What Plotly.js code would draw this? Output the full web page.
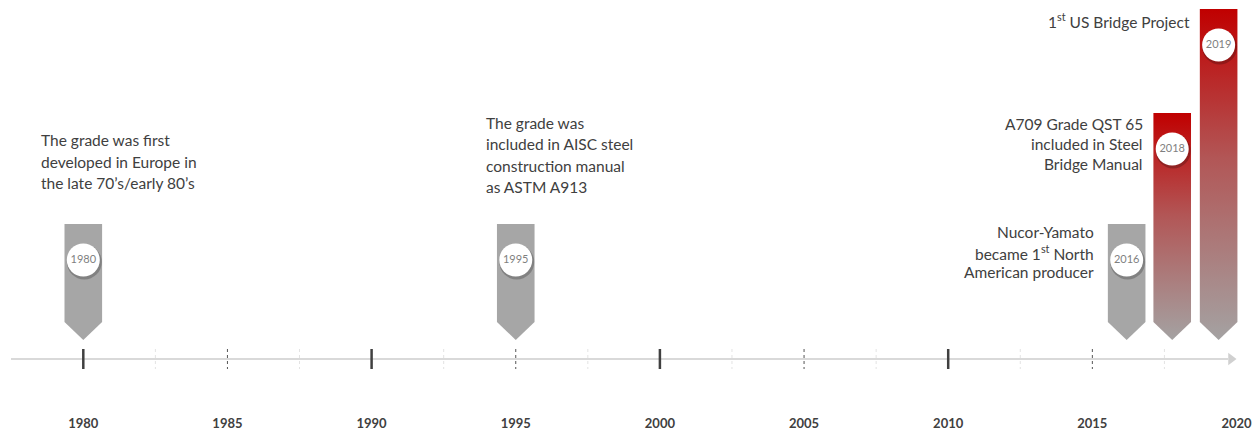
<!DOCTYPE html>
<html>
<head>
<meta charset="utf-8">
<script src="https://cdn.plot.ly/plotly-3.0.1.min.js"></script>
<style>html,body{margin:0;padding:0;background:#fff;}#chart{width:1260px;height:433px;}</style>
</head>
<body>
<div id="chart"></div>
<script>
// ---------- DATA ----------
const eventYears   = ['1980', '1995', '2016', '2018', '2019'];
const bannerPos    = [1980.0, 1995.0, 2016.19, 2017.77, 2019.38];   // position on the time axis (years)
const bannerTop    = [224, 224, 224, 113, 9];                       // banner top level
const bannerRed    = [false, false, false, true, true];

const majorTicks   = [1980, 1990, 2000, 2010];
const midTicks     = [1985, 1995, 2005, 2015];
const minorTicks   = [1982.5, 1987.5, 1992.5, 1997.5, 2002.5, 2007.5, 2012.5, 2017.5];
const tickLabels   = [1980, 1985, 1990, 1995, 2000, 2005, 2010, 2015, 2020];

const note1980 = ['The grade was first', 'developed in Europe in', 'the late 70’s/early 80’s'];
const note1995 = ['The grade was', 'included in AISC steel', 'construction manual', 'as ASTM A913'];
const note2016 = ['Nucor-Yamato', 'became 1<sup>st</sup> North', 'American producer'];
const note2018 = ['A709 Grade QST 65', 'included in Steel', 'Bridge Manual'];
const note2019 = ['1<sup>st</sup> US Bridge Project'];

// ---------- GEOMETRY / STYLE ----------
const PX_PER_YEAR = 28.83, ORIGIN_PX = 83.3;
const yr = px => 1980 + (px - ORIGIN_PX) / PX_PER_YEAR;
const dYr = px => px / PX_PER_YEAR;
const AXIS_Y = 359, TICK_HALF = 10, RECT_BOTTOM = 322, TIP = 340, HALF_W = dYr(18.8);
const TEXT = '#404040', FONT = 'Lato';

const traces = [];

// axis line + arrow
traces.push({x: [yr(11), yr(1228)], y: [AXIS_Y, AXIS_Y], mode: 'lines',
  line: {color: '#D9D9D9', width: 2}, hoverinfo: 'skip'});
traces.push({x: [yr(1231)], y: [AXIS_Y], mode: 'markers',
  marker: {symbol: 'triangle-right', size: 11, color: '#D0D0D0'}, hoverinfo: 'skip'});

function tickTrace(arr, color, width, dash) {
  const x = [], y = [];
  arr.forEach(t => { x.push(t, t, null); y.push(AXIS_Y - TICK_HALF, AXIS_Y + TICK_HALF, null); });
  return {x, y, mode: 'lines', line: {color, width, dash}, hoverinfo: 'skip'};
}
traces.push(tickTrace(minorTicks, '#E3E3E3', 1, 'dot'));
traces.push(tickTrace(midTicks, '#555555', 1, 'dot'));
traces.push(tickTrace(majorTicks, '#404040', 2.5, 'solid'));

// tick labels
traces.push({x: tickLabels, y: tickLabels.map(() => 425), mode: 'text',
  text: tickLabels.map(String), textposition: 'middle center',
  textfont: {family: FONT, size: 13, color: TEXT, weight: 'bold'}, hoverinfo: 'skip'});

// banners
bannerPos.forEach((cx, i) => {
  const top = bannerTop[i];
  const t = {
    x: [cx - HALF_W, cx + HALF_W, cx + HALF_W, cx, cx - HALF_W, cx - HALF_W],
    y: [top, top, RECT_BOTTOM, TIP, RECT_BOTTOM, top],
    mode: 'lines', fill: 'toself', line: {width: 0}, hoverinfo: 'skip'
  };
  if (bannerRed[i]) {
    t.fillgradient = {type: 'vertical', start: top, stop: TIP,
      colorscale: [[0, '#C00000'], [0.45, '#B25656'], [1, '#A4A2A2']]};
  } else {
    t.fillcolor = '#A6A6A6';
  }
  traces.push(t);
});

// circle shadows + circles + year labels
const cy = bannerTop.map(t => t + 36);
traces.push({x: bannerPos.map(v => v + dYr(1)), y: cy.map(v => v + 2), mode: 'markers',
  marker: {size: 35, color: 'rgba(0,0,0,0.22)'}, hoverinfo: 'skip'});
traces.push({x: bannerPos, y: cy, mode: 'markers+text', text: eventYears,
  textposition: 'middle center', textfont: {family: FONT, size: 11, color: '#7F7F7F'},
  marker: {size: 33, color: '#FFFFFF', line: {width: 0}}, hoverinfo: 'skip'});

// notes
const annotations = [];
function note(lines, xPx, yFirst, step, align) {
  lines.forEach((s, k) => annotations.push({
    x: yr(xPx), y: yFirst + k * step, xref: 'x', yref: 'y', text: s, showarrow: false,
    xanchor: align, yanchor: 'middle', align: align, borderpad: 0,
    font: {family: FONT, size: 15.5, color: TEXT}
  }));
}
note(note1980, 40, 140, 21.5, 'left');
note(note1995, 485, 123, 21.3, 'left');
note(note2018, 1144, 124, 20, 'right');
note(note2016, 1095, 232, 20, 'right');
note(note2019, 1191, 20, 20, 'right');

const layout = {
  width: 1260, height: 433, margin: {l: 0, r: 0, t: 0, b: 0},
  paper_bgcolor: '#FFFFFF', plot_bgcolor: '#FFFFFF', showlegend: false,
  xaxis: {range: [yr(0), yr(1260)], visible: false, fixedrange: true},
  yaxis: {range: [433, 0], visible: false, fixedrange: true},
  annotations
};
Plotly.newPlot('chart', traces, layout, {displayModeBar: false, staticPlot: true});
</script>
</body>
</html>
